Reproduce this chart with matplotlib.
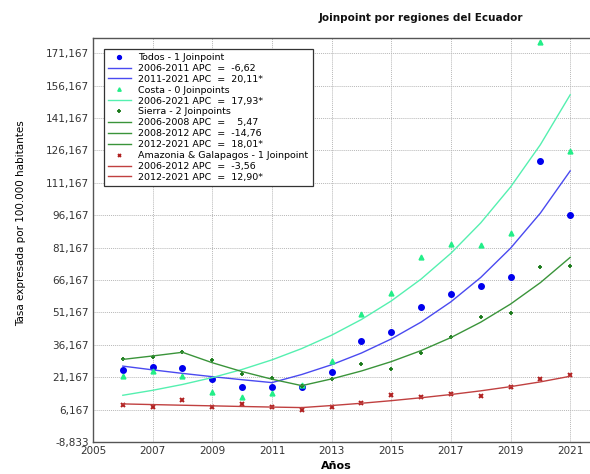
import matplotlib
matplotlib.use("Agg")
import matplotlib.pyplot as plt

years = list(range(2006, 2022))

# tasas observadas
todos = [24.6, 25.9, 25.6, 20.2, 16.4, 16.4, 16.7, 23.6, 37.7, 42.0, 53.7, 59.9, 63.6, 67.4, 121.3, 96.4]
costa = [21.8, 24.2, 21.5, 14.1, 12.2, 13.8, 17.6, 28.6, 50.2, 60.0, 77.0, 82.9, 82.4, 87.9, 176.4, 125.9]
sierra = [29.8, 30.6, 32.7, 28.9, 22.6, 20.7, 17.3, 20.2, 27.2, 24.9, 32.3, 39.8, 49.2, 51.1, 72.4, 72.8]
amazonia = [8.4, 7.3, 10.5, 7.6, 8.8, 7.6, 6.1, 7.4, 9.4, 12.7, 11.8, 13.3, 12.4, 16.7, 20.4, 22.4]

# valores ajustados del modelo joinpoint
todos_fit = [26.3, 24.56, 22.93, 21.41, 20.0, 18.67, 22.42, 26.93, 32.35, 38.86, 46.67, 56.06, 67.33, 80.87, 97.13, 116.66]
costa_fit = [12.8, 15.1, 17.8, 20.99, 24.75, 29.19, 34.43, 40.6, 47.88, 56.46, 66.58, 78.52, 92.6, 109.2, 128.8, 151.9]
sierra_fit = [29.4, 31.0, 32.7, 27.87, 23.76, 20.25, 17.26, 20.37, 24.04, 28.37, 33.48, 39.51, 46.63, 55.02, 64.93, 76.63]
amazonia_fit = [8.8, 8.49, 8.19, 7.9, 7.61, 7.34, 7.1, 8.05, 9.1, 10.3, 11.65, 13.15, 14.85, 16.8, 19.0, 21.6]

# segmentos (inicio, fin, etiqueta)
todos_seg = [(2006, 2011, "2006-2011 APC  =  -6,62"), (2011, 2021, "2011-2021 APC  =  20,11*")]
costa_seg = [(2006, 2021, "2006-2021 APC  =  17,93*")]
sierra_seg = [(2006, 2008, "2006-2008 APC  =    5,47"), (2008, 2012, "2008-2012 APC  =  -14,76"),
              (2012, 2021, "2012-2021 APC  =  18,01*")]
amazonia_seg = [(2006, 2012, "2006-2012 APC  =  -3,56"), (2012, 2021, "2012-2021 APC  =  12,90*")]

yticks = [-8.833 + 15 * i for i in range(13)]
xticks = list(range(2005, 2022, 2))

plt.rcParams['font.family'] = ['DejaVu Sans']

fig = plt.figure(figsize=(5.9, 4.74), dpi=100)
ax = fig.add_axes([93 / 590, 32 / 474, 507 / 590, 404 / 474])


def draw(obs, fit, segs, name, marker, mcolor, lcolor, ms, mew=1.0):
    ax.plot(years, obs, linestyle='none', marker=marker, color=mcolor, markersize=ms,
            markeredgewidth=mew, label=name)
    for a, b, lab in segs:
        i, j = years.index(a), years.index(b)
        ax.plot(years[i:j + 1], fit[i:j + 1], color=lcolor, linewidth=1.0, label=lab)


draw(todos, todos_fit, todos_seg, "Todos - 1 Joinpoint", 'o', '#0000ee', '#4a4af0', 4)
draw(costa, costa_fit, costa_seg, "Costa - 0 Joinpoints", '^', '#22ee88', '#55f0b0', 3.5)
draw(sierra, sierra_fit, sierra_seg, "Sierra - 2 Joinpoints", '+', '#1a7a1a', '#3a943a', 3.5, 1.3)
draw(amazonia, amazonia_fit, amazonia_seg, "Amazonia & Galapagos - 1 Joinpoint", 'x', '#b02020', '#c04040', 3, 1.4)

ax.set_xlim(2005, 2022)
ax.set_ylim(-8.833, 178.2)
ax.set_xticks(xticks)
ax.set_yticks(yticks)
ax.set_yticklabels([f"{v:.3f}".replace('.', ',') for v in yticks])
ax.tick_params(labelsize=7.5, colors='#333333', length=0, pad=3)
ax.grid(True, color='#b8b8b8', linestyle=(0, (1, 1)), linewidth=0.7)
for s in ax.spines.values():
    s.set_color('#555555')
    s.set_linewidth(1.0)

leg = ax.legend(loc='upper left', bbox_to_anchor=(6 / 507, 1 - 6 / 404), fontsize=6.8,
                labelspacing=0.2, handlelength=2.4, handletextpad=0.8, borderpad=0.45,
                markerscale=0.7, fancybox=False, edgecolor='#333333', framealpha=1)
leg.get_frame().set_linewidth(0.9)

fig.text(0.714, 0.963, "Joinpoint por regiones del Ecuador", ha='center', va='center',
         fontsize=7.5, fontweight='bold', color='#111111')
fig.text(0.035, 0.53, "Tasa expresada por 100.000 habitantes", rotation=90, ha='center',
         va='center', fontsize=7.5, family=['Liberation Sans Narrow', 'DejaVu Sans'])
fig.text(0.57, 0.016, "Años", ha='center', va='center', fontsize=8, fontweight='bold')

fig.savefig("out.png", dpi=100)
